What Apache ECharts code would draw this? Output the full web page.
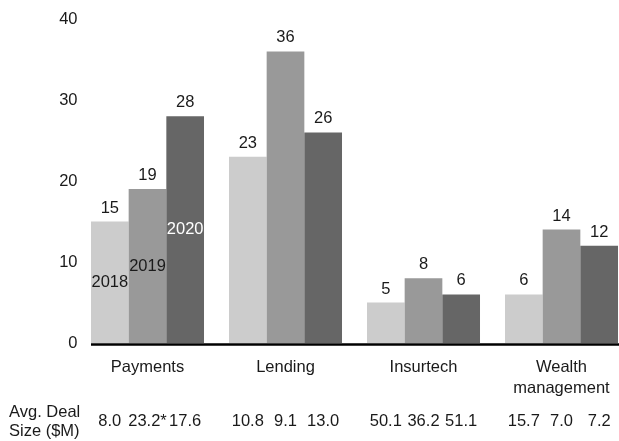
<!DOCTYPE html>
<html>
<head>
<meta charset="utf-8">
<script src="https://cdn.jsdelivr.net/npm/echarts@6/dist/echarts.min.js"></script>
<style>
    html, body { margin: 0; padding: 0; background: #fff; }
    #chart { width: 619px; height: 441px; }
</style>
</head>
<body>
<div id="chart"></div>
<script>
var categories = ['Payments', 'Lending', 'Insurtech', 'Wealth\nmanagement'];
var years = ['2018', '2019', '2020'];
var deals2018 = [15, 23, 5, 6];
var deals2019 = [19, 36, 8, 14];
var deals2020 = [28, 26, 6, 12];
var avgSize2018 = ['8.0', '10.8', '50.1', '15.7'];
var avgSize2019 = ['23.2*', '9.1', '36.2', '7.0'];
var avgSize2020 = ['17.6', '13.0', '51.1', '7.2'];
var yTicks = { min: 0, max: 40, interval: 10 };

var colors = ['#cccccc', '#999999', '#666666'];
var nameColors = ['#1a1a1a', '#1a1a1a', '#ffffff'];
var font = 'Liberation Sans, Arial, sans-serif';
var txt = '#1a1a1a';
var fs = 16.5;

var deals = [deals2018, deals2019, deals2020];
var sizes = [avgSize2018, avgSize2019, avgSize2020];

var myChart = echarts.init(document.getElementById('chart'));

var series = [];
var $each = function (arr, fn) { for (var i = 0; i < arr.length; i++) fn(i, arr[i]); };
// main bars with value on top
$each(years, function (i, y) {
    series.push({
        name: y,
        type: 'bar',
        xAxisIndex: 0,
        yAxisIndex: 0,
        data: deals[i],
        barGap: 0,
        barCategoryGap: '18.1%',
        itemStyle: { color: colors[i] },
        label: {
            show: true,
            position: 'top',
            distance: 5,
            color: txt,
            fontFamily: font,
            fontSize: fs
        }
    });
});
// transparent overlay bars, only to put the year name inside the Payments bars
$each(years, function (i, y) {
    series.push({
        name: y + ' label',
        type: 'bar',
        xAxisIndex: 1,
        yAxisIndex: 0,
        data: deals[i],
        barGap: 0,
        barCategoryGap: '18.1%',
        itemStyle: { color: 'rgba(0,0,0,0)' },
        label: {
            show: true,
            position: 'inside',
            color: nameColors[i],
            fontFamily: font,
            fontSize: fs,
            formatter: function (p) {
                return p.dataIndex === 0 ? y : '';
            }
        },
        silent: true
    });
});
// avg deal size row, laid out with the same bar positions in a second grid
$each(years, function (i, y) {
    series.push({
        name: y + ' size',
        type: 'bar',
        xAxisIndex: 2,
        yAxisIndex: 1,
        data: sizes[i].map(function () { return 1; }),
        barGap: 0,
        barCategoryGap: '18.1%',
        itemStyle: { color: 'rgba(0,0,0,0)' },
        label: {
            show: true,
            position: 'inside',
            color: txt,
            fontFamily: font,
            fontSize: fs,
            formatter: function (p) {
                return sizes[i][p.dataIndex];
            }
        },
        silent: true
    });
});

myChart.setOption({
    animation: false,
    title: {
        text: 'Avg. Deal\nSize ($M)',
        left: 4,
        top: 398,
        textStyle: {
            fontFamily: font,
            fontSize: fs,
            fontWeight: 'normal',
            color: txt,
            lineHeight: 19
        }
    },
    grid: [
        { left: 78.5, width: 552, top: 19, height: 324, containLabel: false, outerBoundsMode: 'none' },
        { left: 78.5, width: 552, top: 406, height: 30, containLabel: false, outerBoundsMode: 'none' }
    ],
    xAxis: [
        {
            type: 'category',
            gridIndex: 0,
            data: categories,
            axisLine: { show: false },
            axisTick: { show: false },
            axisLabel: {
                margin: 14,
                color: txt,
                fontFamily: font,
                fontSize: fs,
                lineHeight: 21
            }
        },
        {
            type: 'category',
            gridIndex: 0,
            data: categories,
            show: false
        },
        {
            type: 'category',
            gridIndex: 1,
            data: categories,
            show: false
        }
    ],
    yAxis: [
        {
            type: 'value',
            gridIndex: 0,
            min: yTicks.min,
            max: yTicks.max,
            interval: yTicks.interval,
            splitLine: { show: false },
            axisLine: { show: false },
            axisTick: { show: false },
            axisLabel: {
                margin: 1,
                color: txt,
                fontFamily: font,
                fontSize: fs
            }
        },
        {
            type: 'value',
            gridIndex: 1,
            min: 0,
            max: 1,
            show: false
        }
    ],
    series: series
});

// baseline: starts at the first bar and runs to the right edge
var y0 = myChart.convertToPixel({ yAxisIndex: 0 }, 0);
myChart.setOption({
    graphic: [{
        type: 'line',
        shape: { x1: 91, y1: y0 + 1.5, x2: 619, y2: y0 + 1.5 },
        style: { stroke: '#000', lineWidth: 2.5 },
        z: 10
    }]
});
</script>
</body>
</html>
